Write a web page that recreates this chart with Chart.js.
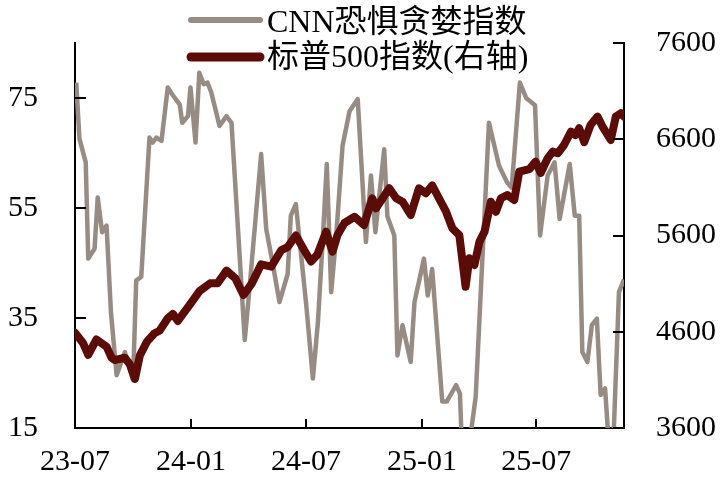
<!DOCTYPE html>
<html>
<head>
<meta charset="utf-8">
<script src="https://cdn.jsdelivr.net/npm/chart.js@4.4.0/dist/chart.umd.min.js"></script>
<style>
  html, body { margin: 0; padding: 0; background: #fff; }
  #wrap { width: 728px; height: 486px; }
</style>
</head>
<body>
<div id="wrap"><canvas id="chart" width="728" height="486"></canvas></div>
<script>
// CNN fear & greed index (left axis)
const fgDates = [
  '2023-07-03','2023-07-08','2023-07-18','2023-07-22','2023-08-01','2023-08-06','2023-08-13','2023-08-20',
  '2023-08-27','2023-09-05','2023-09-18','2023-10-01','2023-10-06','2023-10-14','2023-10-27','2023-11-01',
  '2023-11-07','2023-11-15','2023-11-25','2023-12-03','2023-12-14','2023-12-18','2023-12-27','2023-12-31',
  '2024-01-08','2024-01-14','2024-01-21','2024-01-27','2024-02-02','2024-02-15','2024-02-26','2024-03-05',
  '2024-03-26','2024-04-02','2024-04-21','2024-04-29','2024-05-09','2024-05-20','2024-06-02','2024-06-07',
  '2024-06-15','2024-07-01','2024-07-12','2024-07-20','2024-07-28','2024-08-03','2024-08-10','2024-08-18',
  '2024-08-28','2024-09-08','2024-09-21','2024-10-04','2024-10-12','2024-10-19','2024-11-02','2024-11-07',
  '2024-11-18','2024-11-23','2024-12-01','2024-12-14','2024-12-20','2025-01-04','2025-01-10','2025-01-17',
  '2025-02-02','2025-02-09','2025-02-24','2025-03-02','2025-03-05','2025-03-17','2025-03-27','2025-04-17',
  '2025-05-03','2025-05-16','2025-05-23','2025-06-05','2025-06-15','2025-06-29','2025-07-07','2025-07-19',
  '2025-07-30','2025-08-07','2025-08-23','2025-08-31','2025-09-07','2025-09-12','2025-09-20','2025-09-27',
  '2025-10-05','2025-10-11','2025-10-18','2025-10-24','2025-10-31','2025-11-09','2025-11-17'
];
const fgValues = [
  77.8, 67.6, 63.3, 45.8, 47.6, 56.9, 50.6, 51.8,
  36.0, 24.6, 28.8, 23.7, 41.8, 42.5, 67.8, 66.9,
  67.8, 67.2, 76.9, 75.5, 73.8, 70.5, 71.7, 76.9,
  66.9, 79.6, 77.5, 77.8, 76.0, 69.9, 71.7, 70.5,
  31.0, 39.7, 64.8, 51.2, 45.1, 37.9, 43.0, 53.6,
  55.7, 37.9, 24.0, 34.3, 50.0, 63.0, 39.7, 50.0,
  66.3, 72.6, 74.8, 48.8, 60.9, 50.6, 65.7, 53.5,
  50.0, 28.2, 33.7, 27.0, 37.9, 45.8, 39.1, 43.9,
  19.8, 19.8, 22.8, 21.3, 12.0, 12.0, 20.7, 70.5,
  62.7, 59.6, 58.7, 77.8, 75.0, 73.7, 50.0, 60.9,
  63.3, 53.0, 63.0, 53.6, 53.6, 28.8, 27.0, 33.7,
  34.9, 21.0, 22.2, 12.0, 12.0, 39.7, 42.0
];

// S&P 500 index (right axis)
const spxDates = [
  '2023-07-01','2023-07-14','2023-07-22','2023-08-04','2023-08-20','2023-08-28','2023-09-02','2023-09-18',
  '2023-09-26','2023-10-04','2023-10-12','2023-10-23','2023-11-04','2023-11-12','2023-11-25','2023-12-03',
  '2023-12-11','2024-01-01','2024-01-14','2024-01-31','2024-02-12','2024-02-26','2024-03-11','2024-03-24',
  '2024-04-06','2024-04-21','2024-05-07','2024-05-23','2024-06-02','2024-06-15','2024-06-28','2024-07-09',
  '2024-07-19','2024-08-02','2024-08-12','2024-08-20','2024-08-31','2024-09-16','2024-10-01','2024-10-14',
  '2024-10-20','2024-11-10','2024-11-21','2024-12-01','2024-12-14','2024-12-27','2025-01-07','2025-01-17',
  '2025-02-08','2025-02-18','2025-03-01','2025-03-11','2025-03-17','2025-03-25','2025-04-02','2025-04-10',
  '2025-04-20','2025-04-28','2025-05-06','2025-05-16','2025-05-27','2025-06-04','2025-06-20','2025-06-30',
  '2025-07-08','2025-07-19','2025-07-27','2025-08-04','2025-08-14','2025-08-25','2025-09-01','2025-09-07',
  '2025-09-15','2025-09-25','2025-10-06','2025-10-14','2025-10-27','2025-11-04','2025-11-12','2025-11-17'
];
const spxValues = [
  4590, 4480, 4360, 4520, 4445, 4330, 4306, 4330,
  4260, 4110, 4358, 4497, 4584, 4610, 4740, 4785,
  4712, 4900, 5020, 5103, 5103, 5235, 5155, 4982,
  5100, 5300, 5276, 5449, 5480, 5600, 5449, 5330,
  5400, 5640, 5432, 5605, 5730, 5795, 5709, 5987,
  5883, 6090, 5987, 5951, 5813, 6090, 6039, 6120,
  5847, 5675, 5605, 5068, 5363, 5294, 5536, 5640,
  5951, 5847, 5987, 6021, 5969, 6263, 6290, 6367,
  6250, 6402, 6471, 6454, 6540, 6679, 6644, 6714,
  6570, 6748, 6835, 6731, 6592, 6835, 6870, 6835
];

const xStart = '2023-07-01';
const xEnd = '2025-11-17';
const xTickDates = ['2023-07-01', '2024-01-01', '2024-07-01', '2025-01-01', '2025-07-01'];
const xTickLabels = ['23-07', '24-01', '24-07', '25-01', '25-07'];
const leftTicks = [15, 35, 55, 75];
const rightTicks = [3600, 4600, 5600, 6600, 7600];
const seriesNames = ['CNN恐惧贪婪指数', '标普500指数(右轴)'];

const GRAY = '#978c84';
const RED = '#5b0c06';
const tickFont = { family: "'Liberation Serif', 'Times New Roman', serif", size: 30 };

const toDay = s => (Date.parse(s) - Date.parse(xStart)) / 864e5;
const points = (dates, vals) => dates.map((d, i) => ({ x: toDay(d), y: vals[i] }));

// fixed box sizes so the plot area lands where it is in the original
const fixWidth = w => s => {
  s.width = w;
  s.paddingTop = 0;
  s.paddingBottom = 0;
};

// tick marks pointing into the plot
const innerTicks = {
  id: 'innerTicks',
  afterDraw(chart) {
    const { ctx, chartArea: a, scales } = chart;
    ctx.save();
    ctx.strokeStyle = '#000';
    ctx.lineWidth = 2;
    ctx.beginPath();
    scales.y.ticks.forEach(t => {
      const py = Math.round(scales.y.getPixelForValue(t.value));
      ctx.moveTo(a.left, py); ctx.lineTo(a.left + 11, py);
    });
    scales.y1.ticks.forEach(t => {
      const py = Math.round(scales.y1.getPixelForValue(t.value));
      ctx.moveTo(a.right, py); ctx.lineTo(a.right - 11, py);
    });
    scales.x.ticks.forEach(t => {
      const px = Math.round(scales.x.getPixelForValue(t.value));
      ctx.moveTo(px, a.bottom); ctx.lineTo(px, a.bottom - 9);
    });
    ctx.stroke();
    ctx.restore();
  }
};

// two-row legend at the top
const lineLegend = {
  id: 'lineLegend',
  afterDraw(chart) {
    const { ctx } = chart;
    const rows = [
      { y: 20, ty: 24, color: GRAY, width: 6 },
      { y: 57, ty: 59, color: RED, width: 9 }
    ];
    ctx.save();
    ctx.lineCap = 'round';
    ctx.font = "32px 'Liberation Serif', 'Noto Sans CJK SC', serif";
    ctx.fillStyle = '#000';
    ctx.textBaseline = 'middle';
    rows.forEach((r, i) => {
      ctx.strokeStyle = r.color;
      ctx.lineWidth = r.width;
      ctx.beginPath();
      ctx.moveTo(191, r.y); ctx.lineTo(260, r.y);
      ctx.stroke();
      ctx.fillText(seriesNames[i], 267, r.ty);
    });
    ctx.restore();
  }
};

new Chart(document.getElementById('chart'), {
  type: 'line',
  data: {
    datasets: [
      {
        label: seriesNames[0],
        data: points(fgDates, fgValues),
        yAxisID: 'y',
        borderColor: GRAY,
        borderWidth: 4.5,
        borderJoinStyle: 'round',
        order: 2
      },
      {
        label: seriesNames[1],
        data: points(spxDates, spxValues),
        yAxisID: 'y1',
        borderColor: RED,
        borderWidth: 8,
        borderJoinStyle: 'round',
        borderCapStyle: 'round',
        order: 1
      }
    ]
  },
  options: {
    responsive: false,
    animation: false,
    layout: { padding: { top: 43, left: 0, right: 0, bottom: 0 } },
    elements: { point: { radius: 0 }, line: { tension: 0 } },
    plugins: { legend: { display: false }, tooltip: { enabled: false } },
    scales: {
      x: {
        type: 'linear',
        min: 0,
        max: toDay(xEnd),
        grid: { display: false, drawTicks: false },
        border: { display: true, color: '#000', width: 2 },
        afterBuildTicks: s => { s.ticks = xTickDates.map(d => ({ value: toDay(d) })); },
        afterFit: s => { s.height = 58; s.paddingLeft = 0; s.paddingRight = 0; },
        ticks: {
          font: tickFont, color: '#000', padding: 16, maxRotation: 0, autoSkip: false,
          callback: (v, i) => xTickLabels[i]
        }
      },
      y: {
        position: 'left',
        min: 15,
        max: 85,
        grid: { display: false, drawTicks: false },
        border: { display: true, color: '#000', width: 2 },
        afterBuildTicks: s => { s.ticks = leftTicks.map(v => ({ value: v })); },
        afterFit: fixWidth(75),
        ticks: { font: tickFont, color: '#000', padding: 37, callback: v => v }
      },
      y1: {
        position: 'right',
        min: 3600,
        max: 7600,
        grid: { display: false, drawTicks: false },
        border: { display: true, color: '#000', width: 2 },
        afterBuildTicks: s => { s.ticks = rightTicks.map(v => ({ value: v })); },
        afterFit: fixWidth(104),
        ticks: { font: tickFont, color: '#000', padding: 32, callback: v => v }
      }
    }
  },
  plugins: [innerTicks, lineLegend]
});
</script>
</body>
</html>
